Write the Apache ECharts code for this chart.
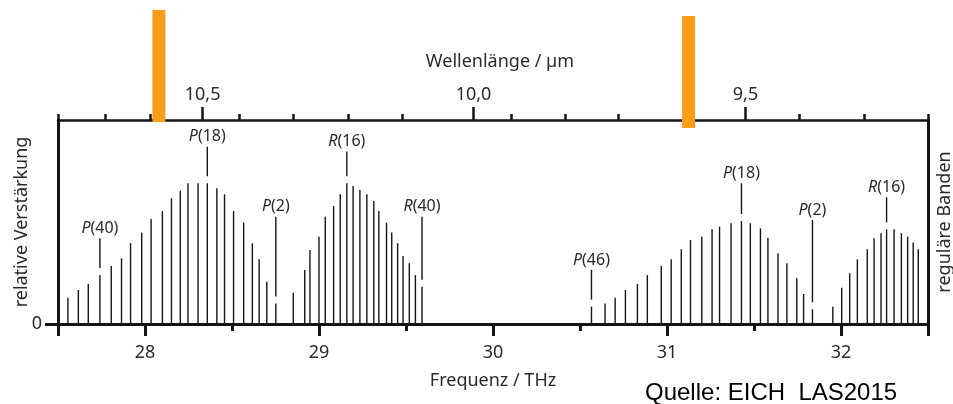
<!DOCTYPE html>
<html>
<head>
<meta charset="utf-8">
<script src="https://cdn.jsdelivr.net/npm/echarts@6/dist/echarts.min.js"></script>
<style>
  html, body { margin: 0; padding: 0; background: #fff; }
  #chart { width: 953px; height: 404px; }
</style>
</head>
<body>
<div id="chart"></div>
<script>
// Frequenz in THz, Verstärkung relativ (0..100 = Rahmenhöhe)
const p10Freq = [27.557, 27.617, 27.674, 27.741, 27.806, 27.865, 27.917, 27.981, 28.035, 28.100, 28.152, 28.203, 28.247, 28.305, 28.358, 28.413, 28.457, 28.509, 28.567, 28.617, 28.656, 28.700, 28.752];
const p10Gain = [12.9, 16.7, 19.6, 24.0, 28.4, 32.2, 39.6, 44.8, 51.5, 55.4, 61.6, 65.3, 69.0, 69.0, 69.0, 66.5, 63.6, 55.4, 49.7, 39.6, 31.7, 20.7, 10.1];
const r10Freq = [28.852, 28.918, 28.948, 29.000, 29.036, 29.084, 29.122, 29.160, 29.196, 29.235, 29.275, 29.315, 29.344, 29.388, 29.418, 29.452, 29.483, 29.519, 29.554, 29.592];
const r10Gain = [15.3, 26.5, 36.3, 42.8, 52.6, 57.8, 63.6, 69.0, 67.6, 65.7, 63.6, 60.3, 55.4, 49.7, 44.8, 39.6, 33.3, 29.8, 24.0, 18.3];
const p9Freq = [30.566, 30.644, 30.702, 30.761, 30.830, 30.887, 30.967, 31.024, 31.082, 31.135, 31.200, 31.259, 31.302, 31.368, 31.428, 31.479, 31.537, 31.580, 31.638, 31.689, 31.746, 31.785, 31.836];
const p9Gain = [8.5, 10.1, 12.9, 16.7, 19.6, 24.0, 28.4, 31.7, 36.6, 41.2, 42.8, 46.4, 47.7, 49.4, 50.5, 49.4, 46.9, 42.3, 34.7, 29.8, 22.4, 14.7, 7.2];
const r9Freq = [31.953, 32.004, 32.050, 32.094, 32.151, 32.190, 32.230, 32.262, 32.305, 32.347, 32.383, 32.415, 32.444];
const r9Gain = [8.5, 17.8, 24.9, 31.7, 36.6, 42.0, 44.5, 46.4, 46.4, 44.5, 42.8, 39.9, 36.6];

// Beschriftete Linien
const labelText = ['P(40)', 'P(18)', 'P(2)', 'R(16)', 'R(40)', 'P(46)', 'P(18)', 'P(2)', 'R(16)'];
const labelFreq = [27.741, 28.358, 28.752, 29.160, 29.592, 30.566, 31.428, 31.836, 32.262];
const labelTop = [42.0, 86.9, 52.6, 84.5, 52.6, 26.5, 69.0, 51.0, 62.1];

// obere Achse (Wellenlänge), Lage in THz
const waveLabels = ['10,5', '10,0', '9,5'];
const waveMajorFreq = [28.331, 29.888, 31.451];
const waveMinorFreq = [27.773, 28.031, 28.543, 28.852, 29.168, 29.479, 30.104, 30.415, 30.721, 31.762, 32.134];

const freqTicks = [28, 29, 30, 31, 32];
const freqMinor = [28.5, 29.5, 30.5, 31.5];

// orange Markierungen
const markerFreq = [28.080, 31.124];

const fMin = 27.5, fMax = 32.5;
const font = '"Noto Sans", sans-serif';
const textColor = '#2a2a2a';
const ink = '#151515';

const allLines = [];
[[p10Freq, p10Gain], [r10Freq, r10Gain], [p9Freq, p9Gain], [r9Freq, r9Gain]].forEach(([f, g]) => {
  f.forEach((v, i) => allLines.push([v, g[i]]));
});

function gainAt(freq) {
  let best = allLines[0];
  allLines.forEach(d => { if (Math.abs(d[0] - freq) < Math.abs(best[0] - freq)) best = d; });
  return best[1];
}

const labelData = labelFreq.map((f, i) => [f, gainAt(f), labelTop[i], i]);

const chart = echarts.init(document.getElementById('chart'));

const option = {
  animation: false,
  backgroundColor: '#fff',
  grid: { left: 58, right: 25, top: 120, bottom: 80, outerBoundsMode: 'none', containLabel: false },
  xAxis: [
    {
      type: 'value', position: 'bottom', min: fMin, max: fMax,
      splitLine: { show: false },
      axisLine: { lineStyle: { color: ink, width: 3 } },
      axisTick: { customValues: [fMin].concat(freqTicks, [fMax]), length: 12, lineStyle: { color: ink, width: 3 } },
      axisLabel: { customValues: freqTicks, margin: 20, fontFamily: font, fontSize: 18, color: textColor },
      name: 'Frequenz / THz', nameLocation: 'middle', nameGap: 48,
      nameTextStyle: { fontFamily: font, fontSize: 18, color: textColor }
    },
    {
      type: 'value', position: 'bottom', min: fMin, max: fMax,
      splitLine: { show: false },
      axisLine: { show: false },
      axisTick: { customValues: freqMinor, length: 7, lineStyle: { color: ink, width: 3 } },
      axisLabel: { show: false }
    },
    {
      type: 'value', position: 'top', min: fMin, max: fMax,
      splitLine: { show: false },
      axisLine: { lineStyle: { color: ink, width: 2.5 } },
      axisTick: { customValues: waveMajorFreq, length: 13, lineStyle: { color: ink, width: 2.5 } },
      axisLabel: {
        customValues: waveMajorFreq, margin: 16, fontFamily: font, fontSize: 18, color: textColor,
        formatter: v => {
          let k = 0;
          waveMajorFreq.forEach((f, i) => { if (Math.abs(f - v) < Math.abs(waveMajorFreq[k] - v)) k = i; });
          return waveLabels[k];
        }
      },
      name: 'Wellenlänge / µm', nameLocation: 'middle', nameGap: 49,
      nameTextStyle: { fontFamily: font, fontSize: 18, color: textColor, padding: [0, 0, 0, 14] }
    },
    {
      type: 'value', position: 'top', min: fMin, max: fMax,
      splitLine: { show: false },
      axisLine: { show: false },
      axisTick: { customValues: [fMin].concat(waveMinorFreq, [fMax]), length: 6, lineStyle: { color: ink, width: 2.5 } },
      axisLabel: { show: false }
    }
  ],
  yAxis: [
    {
      type: 'value', position: 'left', min: 0, max: 100,
      splitLine: { show: false },
      axisLine: { show: true, lineStyle: { color: ink, width: 3 } },
      axisTick: { show: true, customValues: [0], length: 13, lineStyle: { color: ink, width: 3 } },
      axisLabel: { customValues: [0], margin: 16, fontFamily: font, fontSize: 18, color: textColor },
      name: 'relative Verstärkung', nameLocation: 'middle', nameRotate: 90, nameGap: 27,
      nameMoveOverlap: false,
      nameTextStyle: { fontFamily: font, fontSize: 18, color: textColor }
    },
    {
      type: 'value', position: 'right', min: 0, max: 100,
      splitLine: { show: false },
      axisLine: { show: true, lineStyle: { color: ink, width: 3 } },
      axisTick: { show: false },
      axisLabel: { show: false },
      name: 'reguläre Banden', nameLocation: 'middle', nameRotate: 90, nameGap: 8,
      nameMoveOverlap: false,
      nameTextStyle: { fontFamily: font, fontSize: 18, color: textColor }
    }
  ],
  graphic: [
    {
      type: 'text', left: 645, top: 381,
      style: { text: 'Quelle: EICH  LAS2015', font: '24px "Liberation Sans", Arial, sans-serif', fill: '#000' }
    }
  ],
  series: [
    {
      // Laserlinien
      type: 'custom', xAxisIndex: 0, yAxisIndex: 0,
      data: allLines,
      renderItem: (params, api) => {
        const a = api.coord([api.value(0), 0]);
        const b = api.coord([api.value(0), api.value(1)]);
        return {
          type: 'line',
          shape: { x1: a[0], y1: a[1], x2: b[0], y2: b[1] },
          style: { stroke: ink, lineWidth: 1.4 }
        };
      }
    },
    {
      // Zuordnungslinien und Beschriftung
      type: 'custom', xAxisIndex: 0, yAxisIndex: 0,
      data: labelData,
      renderItem: (params, api) => {
        const top = api.coord([api.value(0), api.value(2)]);
        const bar = api.coord([api.value(0), api.value(1)]);
        const name = labelText[api.value(3)];
        return {
          type: 'group',
          children: [
            {
              type: 'line',
              shape: { x1: bar[0], y1: bar[1] - 7, x2: top[0], y2: top[1] },
              style: { stroke: ink, lineWidth: 1.4 }
            },
            {
              type: 'text',
              x: top[0], y: top[1] - 2,
              style: {
                text: '{i|' + name.charAt(0) + '}' + name.slice(1),
                align: 'center', verticalAlign: 'bottom',
                fontFamily: font, fontSize: 16, fill: textColor,
                rich: { i: { fontStyle: 'italic', fontFamily: font, fontSize: 16, fill: textColor } }
              }
            }
          ]
        };
      }
    },
    {
      // orange Markierungen über der oberen Achse
      type: 'custom', xAxisIndex: 0, yAxisIndex: 0,
      data: markerFreq.map((f, i) => [f, i]),
      z: 10,
      renderItem: (params, api) => {
        const drop = [0, 6];
        const x = api.coord([api.value(0), 0])[0];
        const gridTop = params.coordSys.y;
        return {
          type: 'rect',
          shape: { x: x - 6.5, y: gridTop - 110 + drop[api.value(1)], width: 13, height: 112 },
          style: { fill: '#F99D1C' }
        };
      }
    }
  ]
};

chart.setOption(option);
</script>
</body>
</html>
